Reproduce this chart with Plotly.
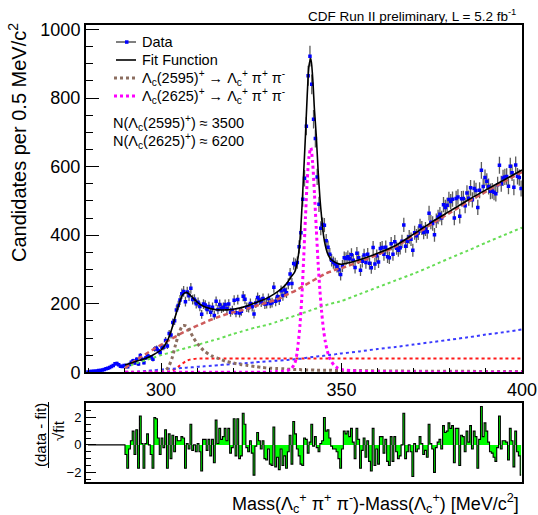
import numpy as np
import plotly.graph_objects as go

# ---------------- data ----------------
mass_first_bin = 279.75   # centre of first 0.5 MeV bin
bin_width = 0.5

counts = [
    1, 2, 2, 3, 3, 4, 5, 5, 7, 8, 10, 12, 14, 17, 20, 25, 26, 22, 18, 17, 20,
    20, 16, 23, 29, 34, 27, 38, 24, 49, 38, 28, 42, 48, 45, 43, 38, 68, 70, 63, 57,
    72, 73, 93, 77, 113, 109, 145, 150, 182, 195, 211, 229, 236, 206, 234, 223, 245, 212, 213, 200,
    204, 192, 169, 199, 196, 183, 192, 175, 190, 166, 207, 183, 198, 187, 190, 198,
    186, 199, 175, 181, 210, 174, 212, 173, 178, 222, 213, 190, 188, 201, 191, 170, 202, 218, 211, 205,
    215, 199, 200, 215, 201, 203, 248, 207, 221, 211, 238, 224, 240, 232, 258, 287, 259, 317, 314, 320,
    366, 407, 505, 566, 718, 865, 922, 840, 738, 682, 570, 490, 420,
    431, 429, 384, 365, 344, 327, 320, 316, 309, 299, 285, 310, 334, 332, 337, 331, 343, 327, 306, 347,
    334, 298, 324, 342, 320, 344, 318,
    305, 364, 316, 340, 322, 361, 364, 344, 365, 337, 334, 375, 344, 381, 362, 356, 363, 382, 430, 368,
    382, 395, 388, 356, 407, 398, 406, 427, 421, 408, 418, 410, 464, 438, 434, 401, 442, 453, 461, 450,
    489, 481, 487, 504, 498, 505, 450, 507, 511, 455, 506, 507, 486, 523, 508, 538, 503, 536, 530, 481,
    531, 589, 542, 568, 557, 542, 528, 529, 525, 521, 547, 604, 550, 567, 570, 571, 543, 601, 582, 540,
    605, 572, 568, 536,
]

residuals = [0.0] * 21 + [
    -0.7, -1.7, -0.3, 0.3, 1.0, -0.7, 1.1, -1.7, 2.1, 0.1, -1.7, 0.1, 0.8, 0.0, -0.7, -1.7, 2.0, 1.9, 0.5, -0.7,
    0.5, -0.2, 1.1, -1.7, 0.8, -1.0, 0.7, -0.5, 0.6, 0.3, 0.3, 0.6, 0.5, -1.7, 0.1, -0.3, 1.5, -0.4, 0.0, -0.5,
    0.1, -0.5, -1.9, 0.4, 0.4, -0.4, 0.4, -0.8, 0.4, -1.3, 1.8, 0.1, 1.2, 0.4, 0.6, 1.2,
    0.3, 1.2, -0.6, -0.2, 1.9, -0.8, 1.9, -1.0, -0.8, 2.3, 1.5, -0.2, -0.5, 0.3, -0.6, -2.2, -0.1, 0.9, 0.3, -0.3,
    0.3, -1.0, -1.1, -0.3, -1.4, -1.5, 1.3, -1.6, -0.9, -1.8, -0.3, -1.5, -0.8, -1.7, -0.5, 0.7, -1.4, 1.7, 0.8, -0.3,
    -0.8, -1.4, -1.5, 0.5, 0.4, -0.6, 0.2, 1.5, -0.1, 0.6, -0.2, -0.5, 0.1, 0.3, 2.0, 1.0, 1.1, 0.5, -0.1, -0.3,
    -0.3, -0.5, -1.0, -1.7, -0.3, 1.0, 0.8, 1.0, 0.6, 1.2, 0.2, -1.0, 1.2, 0.4, -1.7, -0.4, 0.5, -0.9, 0.3, -1.2,
    -1.9, 1.2, -1.5, -0.3, -1.4, 0.6, 0.6, -0.6, 0.4, -1.2, -1.5, 0.6, -1.2, 0.6, -0.5, -1.0, -0.8, 0.0, 2.3, -1.0,
    -0.5, 0.0, -0.5, -2.3, 0.1, -0.5, -0.3, 0.6, 0.1, -0.7, -0.4, -0.9, 1.5, 0.1, -0.3, -2.0, -0.2, 0.2,
    0.4, -0.3, 1.4, 0.9, 1.0, 1.6, 1.2, 1.4, -1.3, 1.2, 1.2, -1.5, 0.7, 0.6, -0.5, 1.0, 0.2, 1.4,
    -0.3, 1.0, 0.6, -1.7, 0.4, 2.8, 0.6, 1.6, 1.0, 0.2, -0.5, -0.6, -0.9, -1.2, -0.2, 2.1, -0.3, 0.3, 0.3, 0.2,
    -1.1, 1.2, 0.3, -1.6, 1.0, -0.5, -0.8, -2.2,
]

fit_mass = [290, 292, 294, 296, 298, 300, 301, 302, 303, 304, 305, 306, 307, 308, 309, 310, 311, 312, 314, 316,
            318, 320, 322, 324, 326, 328, 330, 332, 334, 335, 336, 337, 337.5, 338, 338.5, 339, 339.5, 340, 340.5, 341,
            341.5, 342, 342.5, 343, 343.5, 344, 344.5, 345, 345.5, 346, 346.5, 347, 348, 349, 350, 355, 360, 365, 370,
            375, 380, 385, 390, 395, 400]

fit_total = [22, 28, 35, 42, 52, 65, 78, 98, 128, 165, 200, 226, 233, 226, 215, 205, 197, 191, 185, 182,
             182, 184, 188, 194, 202, 210, 220, 233, 250, 262, 278, 292, 310, 338, 388, 475, 580, 690, 810, 895,
             915, 860, 765, 690, 590, 510, 450, 400, 370, 350, 338, 330, 322, 317, 315, 328, 347, 370, 403,
             438, 470, 502, 532, 561, 590]

fit_2595 = [0, 0, 0, 0, 0, 1, 3, 15, 40, 80, 115, 136, 135, 120, 100, 85, 72, 62, 48, 40,
            32, 27, 23, 20, 17, 14, 12, 11, 10, 9, 9, 8, 8, 8, 8, 7, 7, 7, 7, 7,
            7, 7, 6, 6, 6, 6, 6, 6, 6, 6, 6, 6, 5, 5, 5, 5, 4, 4, 3,
            3, 3, 3, 2, 2, 2]

fit_2625 = [0, 0, 0, 0, 0, 0, 0, 0, 0, 0, 0, 0, 0, 0, 0, 0, 0, 0, 0, 0,
            0, 0, 0, 0, 0, 0, 1, 2, 3, 5, 10, 25, 45, 85, 140, 220, 330, 450, 560, 630,
            655, 610, 520, 420, 320, 240, 175, 125, 90, 65, 47, 35, 20, 12, 8, 3, 2, 1, 1,
            0, 0, 0, 0, 0, 0]

bkg_total = [12, 28, 42, 55, 68, 80, 86, 92, 98, 104, 110, 116, 121, 126, 131, 136, 140, 145, 154, 162,
             169, 175, 180, 186, 193, 199, 205, 212, 222, 227, 232, 237, 240, 243, 246, 249, 252, 255, 258, 261,
             264, 267, 270, 273, 276, 279, 282, 285, 288, 290, 292, 294, 298, 301, 304, 323, 343, 367, 399,
             433, 465, 497, 527, 556, 584]

bkg_green = [15, 22, 29, 36, 43, 50, 53, 56, 59, 62, 65, 68, 71, 74, 77, 80, 83, 86, 92, 98,
             105, 112, 118, 124, 130, 135, 140, 147, 154, 158, 161, 165, 167, 168, 170, 172, 174, 175, 177, 179,
             181, 183, 185, 186, 188, 190, 192, 193, 195, 197, 198, 200, 203, 205, 208, 228, 248, 268, 288,
             310, 333, 355, 378, 400, 422]

bkg_blue = [0, 1, 2, 4, 6, 8, 9, 10, 10.5, 11, 12, 13, 13.5, 14, 15, 16, 17, 17.5, 19, 21,
            22.5, 25, 26, 27, 29, 31, 32, 34, 35, 36, 37, 38, 38.5, 39, 39.5, 40, 41, 42, 42.5, 43,
            44, 44.5, 45, 46, 46.5, 47, 47.5, 48, 49, 50, 50.5, 51, 52, 54, 55, 61, 68, 74, 81,
            88, 95, 102, 110, 117, 125]

bkg_red = [0, 0, 0, 0, 0, 0.5, 1, 2, 5, 10, 18, 26, 33, 37, 39, 40] + [40] * 49

x_range = [279.2, 400]
y_range = [0, 1013]
res_range = [-2.7, 3.05]

# ---------------- figure ----------------
W, H = 538, 515
FONT = "Liberation Sans, Arial, Helvetica, sans-serif"
centers = mass_first_bin + bin_width * np.arange(len(counts))
errors = np.sqrt(np.array(counts, dtype=float))

C_BROWN = "#8c6e60"
C_MAG = "#ff00ff"

fig = go.Figure()

fig.add_trace(go.Scatter(
    x=centers, y=counts, mode="markers",
    marker=dict(symbol="square", size=3.5, color="#0000ff"),
    error_y=dict(type="data", array=errors, color="rgba(50,50,50,0.8)", thickness=1.3, width=0),
    xaxis="x", yaxis="y"))

common = dict(xaxis="x", yaxis="y", mode="lines")
sp = dict(shape="spline", smoothing=0.8)
fig.add_trace(go.Scatter(x=fit_mass, y=bkg_red, line=dict(color="#ff1a1a", width=2, dash="dot", **sp), **common))
fig.add_trace(go.Scatter(x=fit_mass, y=bkg_blue, line=dict(color="#3a3aff", width=2, dash="dot", **sp), **common))
fig.add_trace(go.Scatter(x=fit_mass, y=bkg_green, line=dict(color="#66dd55", width=2, dash="dot", **sp), **common))
fig.add_trace(go.Scatter(x=fit_mass, y=bkg_total, line=dict(color="#cd5c5c", width=2.5, dash="5px,3px", **sp), **common))
fig.add_trace(go.Scatter(x=fit_mass, y=fit_2595, line=dict(color=C_BROWN, width=3, dash="dot", **sp), **common))
fig.add_trace(go.Scatter(x=fit_mass, y=fit_2625, line=dict(color=C_MAG, width=3, dash="dot", **sp), **common))
fig.add_trace(go.Scatter(x=fit_mass, y=fit_total, line=dict(color="black", width=1.6, **sp), **common))

fig.add_trace(go.Scatter(
    x=centers, y=residuals, mode="lines",
    line=dict(color="black", width=1.1, shape="hvh"),
    fill="tozeroy", fillcolor="#00ff00",
    xaxis="x2", yaxis="y2"))

xdom = [86 / W, 522 / W]
axis_common = dict(showgrid=False, zeroline=False, showline=True, linecolor="black", linewidth=2,
                   mirror=True, ticks="inside", tickcolor="black")

fig.update_layout(
    width=W, height=H, autosize=False, showlegend=False,
    margin=dict(l=0, r=0, t=0, b=0, autoexpand=False),
    paper_bgcolor="white", plot_bgcolor="white",
    font=dict(family=FONT, color="black"),
    xaxis=dict(domain=xdom, range=x_range, dtick=50, tick0=0, ticklen=9, tickwidth=1,
               tickfont=dict(size=18), anchor="y",
               minor=dict(dtick=10, tick0=0, ticklen=4.5, ticks="inside", tickcolor="black"),
               **axis_common),
    yaxis=dict(domain=[1 - 372.3 / H, 1 - 25 / H], range=y_range, dtick=200, tick0=0, ticklen=13,
               tickwidth=1, tickfont=dict(size=18), anchor="x",
               minor=dict(dtick=50, tick0=0, ticklen=7, ticks="inside", tickcolor="black"),
               **axis_common),
    xaxis2=dict(domain=xdom, range=x_range, anchor="y2", showticklabels=False, matches="x",
                showgrid=False, zeroline=False, showline=True, linecolor="black", linewidth=2,
                mirror=True, ticks=""),
    yaxis2=dict(domain=[1 - 482 / H, 1 - 403 / H], range=res_range, dtick=2, tick0=0, ticklen=10,
                tickwidth=1, tickfont=dict(size=13), anchor="x2",
                minor=dict(dtick=0.5, tick0=0, ticklen=5, ticks="inside", tickcolor="black"),
                **axis_common),
)

lam = "Λ<sub>c</sub>"
def px(x):
    return x / W
def py(y):
    return 1 - y / H

ann = [
    dict(text="CDF Run II preliminary, L = 5.2 fb<sup>-1</sup>", x=px(518), y=py(15),
         xanchor="right", font=dict(size=13.5)),
    dict(text="Data", x=px(140), y=py(42), xanchor="left", font=dict(size=14.5)),
    dict(text="Fit Function", x=px(140), y=py(60), xanchor="left", font=dict(size=14.5)),
    dict(text=f"{lam}(2595)<sup>+</sup> → {lam}<sup>+</sup> π<sup>+</sup> π<sup>-</sup>",
         x=px(140), y=py(78), xanchor="left", font=dict(size=14.5)),
    dict(text=f"{lam}(2625)<sup>+</sup> → {lam}<sup>+</sup> π<sup>+</sup> π<sup>-</sup>",
         x=px(140), y=py(96), xanchor="left", font=dict(size=14.5)),
    dict(text=f"N({lam}(2595)<sup>+</sup>) ≈ 3500", x=px(111), y=py(123),
         xanchor="left", font=dict(size=14.5)),
    dict(text=f"N({lam}(2625)<sup>+</sup>) ≈ 6200", x=px(111), y=py(141),
         xanchor="left", font=dict(size=14.5)),
    dict(text="Candidates per 0.5 MeV/c<sup>2</sup>", x=px(18), y=py(143), textangle=-90,
         xanchor="center", font=dict(size=20)),
    dict(text=f"Mass({lam}<sup>+</sup> π<sup>+</sup> π<sup>-</sup>)-Mass({lam}<sup>+</sup>) [MeV/c<sup>2</sup>]",
         x=px(521), y=py(503), xanchor="right", font=dict(size=18)),
    dict(text="(data - fit)", x=px(40), y=py(435), textangle=-90,
         xanchor="center", font=dict(size=15)),
    dict(text="√fit", x=px(58), y=py(431), textangle=-90,
         xanchor="center", font=dict(size=15)),
]
for a in ann:
    a.update(xref="paper", yref="paper", showarrow=False, yanchor="middle")
fig.update_layout(annotations=ann)

shapes = [
    dict(type="line", x0=px(48.5), x1=px(48.5), y0=py(402), y1=py(468), line=dict(color="black", width=1)),
    dict(type="line", x0=px(116), x1=px(136), y0=py(42), y1=py(42), line=dict(color="black", width=1)),
    dict(type="rect", x0=px(125), x1=px(128.5), y0=py(40.3), y1=py(43.8), line=dict(width=0), fillcolor="#0000ff"),
    dict(type="line", x0=px(116), x1=px(136), y0=py(60), y1=py(60), line=dict(color="black", width=1.6)),
    dict(type="line", x0=px(114), x1=px(136), y0=py(78), y1=py(78), line=dict(color=C_BROWN, width=3, dash="dot")),
    dict(type="line", x0=px(114), x1=px(136), y0=py(96), y1=py(96), line=dict(color=C_MAG, width=3, dash="dot")),
]
for s in shapes:
    s.update(xref="paper", yref="paper")
fig.update_layout(shapes=shapes)

# remove page margins / scrollbars so the 538x515 figure fills the window exactly
post = """
document.documentElement.style.margin='0';
document.documentElement.style.overflow='hidden';
document.body.style.margin='0';
document.body.style.overflow='hidden';
var gd=document.getElementById('{plot_id}');
Plotly.relayout(gd,{annotations:gd.layout.annotations.slice()});
"""

fig.write_html("out.html", config={"displayModeBar": False}, post_script=post)
